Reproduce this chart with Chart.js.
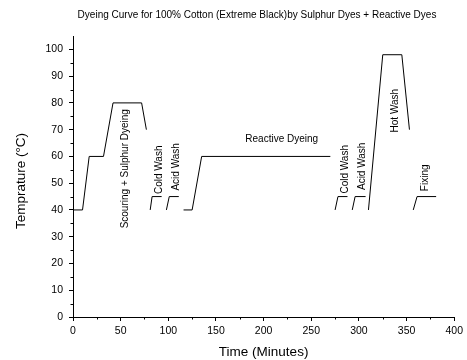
<!DOCTYPE html>
<html>
<head>
<meta charset="utf-8">
<script src="https://cdn.jsdelivr.net/npm/chart.js@4.4.1/dist/chart.umd.min.js"></script>
<style>
  html, body { margin: 0; padding: 0; background: #fff; }
  #wrap { width: 467px; height: 360px; }
</style>
</head>
<body>
<div id="wrap"><canvas id="chart" width="467" height="360"></canvas></div>
<script>
    // process curve, null = break between stages
    var times = [0, 10, 17, 32, 42, 72, 77, null,
                 81, 83, 93, null,
                 98, 101, 111, null,
                 116, 125, 135, 270, null,
                 275, 278, 288, null,
                 293, 296, 307, null,
                 310, 325, 345, 353, null,
                 357, 361, 381];
    var temps = [40, 40, 60, 60, 80, 80, 70, null,
                 40, 45, 45, null,
                 40, 45, 45, null,
                 40, 40, 60, 60, null,
                 40, 45, 45, null,
                 40, 45, 45, null,
                 40, 98, 98, 70, null,
                 40, 45, 45];

    // stage names and where they sit (minutes, deg C)
    var stageNames = ['Scouring + Sulphur Dyeing', 'Cold Wash', 'Acid Wash', 'Reactive Dyeing',
                      'Cold Wash', 'Acid Wash', 'Hot Wash', 'Fixing'];
    var stageX = [55, 90.6, 108.4, 219, 286, 303, 338, 370];
    var stageY = [55.4, 55, 56.1, 66.3, 55.2, 56.3, 77.1, 52];
    var stageVertical = [true, true, true, false, true, true, true, true];

    var xTicks = [0, 50, 100, 150, 200, 250, 300, 350, 400];
    var yTicks = [0, 10, 20, 30, 40, 50, 60, 70, 80, 90, 100];

    var chartTitle = 'Dyeing Curve for 100% Cotton (Extreme Black)by Sulphur Dyes + Reactive Dyes';
    var xTitle = 'Time (Minutes)';
    var yTitle = 'Temprature (\u00B0C)';

    var font = '"Liberation Sans", Arial, sans-serif';

    var points = [];
    for (var i = 0; i < times.length; i++) {
        if (temps[i] === null) {
            points.push({ x: times[i - 1], y: null });
        } else {
            points.push({ x: times[i], y: temps[i] });
        }
    }

    var extras = {
        id: 'extras',
        afterDraw: function(chart) {
            var ctx = chart.ctx;
            var xs = chart.scales.x, ys = chart.scales.y;
            var area = chart.chartArea;
            ctx.save();
            ctx.strokeStyle = '#000';
            ctx.lineWidth = 1;
            // minor ticks
            ctx.beginPath();
            for (var v = 25; v < 400; v += 50) {
                var px = Math.round(xs.getPixelForValue(v)) + 0.5;
                ctx.moveTo(px, area.bottom);
                ctx.lineTo(px, area.bottom + 2.5);
            }
            for (var w = 5; w < 105; w += 10) {
                var py = Math.round(ys.getPixelForValue(w)) + 0.5;
                ctx.moveTo(area.left, py);
                ctx.lineTo(area.left - 2.5, py);
            }
            ctx.stroke();

            ctx.fillStyle = '#000';
            ctx.textAlign = 'center';
            ctx.textBaseline = 'middle';

            // stage labels
            ctx.font = '10px ' + font;
            for (var k = 0; k < stageNames.length; k++) {
                var lx = xs.getPixelForValue(stageX[k]);
                var ly = ys.getPixelForValue(stageY[k]);
                ctx.save();
                ctx.translate(lx, ly);
                if (stageVertical[k]) ctx.rotate(-Math.PI / 2);
                ctx.fillText(stageNames[k], 0, 0);
                ctx.restore();
            }

            // title
            ctx.font = '10px ' + font;
            ctx.fillText(chartTitle, 257, 15);

            // axis titles
            ctx.font = '13.5px ' + font;
            ctx.fillText(xTitle, (area.left + area.right) / 2, 352);
            ctx.save();
            ctx.translate(21, 181);
            ctx.rotate(-Math.PI / 2);
            ctx.fillText(yTitle, 0, 0);
            ctx.restore();
            ctx.restore();
        }
    };

    new Chart(document.getElementById('chart'), {
        type: 'line',
        data: {
            datasets: [{
                data: points,
                borderColor: '#000',
                borderWidth: 1,
                pointRadius: 0,
                tension: 0,
                spanGaps: false
            }]
        },
        options: {
            responsive: false,
            animation: false,
            layout: { padding: { top: 36, right: 11, left: 0, bottom: 0 } },
            plugins: { legend: { display: false }, title: { display: false }, tooltip: { enabled: false } },
            scales: {
                x: {
                    type: 'linear',
                    min: 0,
                    max: 400,
                    afterFit: function(s) { s.height = 43; },
                    afterBuildTicks: function(s) { s.ticks = xTicks.map(function(v) { return { value: v }; }); },
                    grid: { drawOnChartArea: false, color: '#000', tickLength: 4 },
                    border: { color: '#000', width: 1 },
                    ticks: { color: '#000', font: { family: font, size: 10.5 }, padding: 4, maxRotation: 0 }
                },
                y: {
                    type: 'linear',
                    min: 0,
                    max: 105,
                    afterFit: function(s) { s.width = 73; },
                    afterBuildTicks: function(s) { s.ticks = yTicks.map(function(v) { return { value: v }; }); },
                    grid: { drawOnChartArea: false, color: '#000', tickLength: 4 },
                    border: { color: '#000', width: 1 },
                    ticks: { color: '#000', font: { family: font, size: 10.5 }, padding: 6 }
                }
            }
        },
        plugins: [extras]
    });
</script>
</body>
</html>
